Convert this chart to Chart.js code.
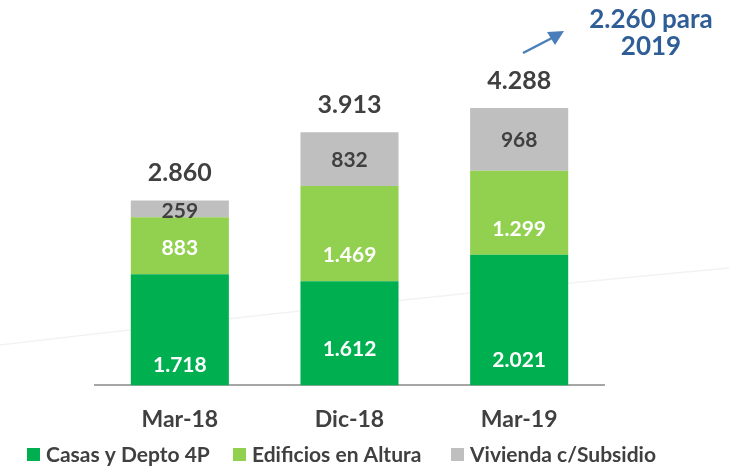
<!DOCTYPE html>
<html lang="es">
<head>
  <meta charset="UTF-8">
  <title>Unidades</title>
  <script src="https://cdn.jsdelivr.net/npm/chart.js"></script>
  <style>
    html, body { margin: 0; padding: 0; background: #fff; }
    #wrap { width: 729px; height: 467px; position: relative; }
  </style>
</head>
<body>
  <div id="wrap"><canvas id="chart"></canvas></div>
  <script>
    // datos
    const periodos = ['Mar-18', 'Dic-18', 'Mar-19'];
    const casas = [1718, 1612, 2021];
    const edificios = [883, 1469, 1299];
    const vivienda = [259, 832, 968];
    const totales = [2860, 3913, 4288];
    const nota = ['2.260 para', '2019'];

    // desplazamiento vertical de las etiquetas (como en el original, movidas a mano)
    const ajusteY = [
      [34, 15, 39],
      [2, 21, 16],
      [1, 0, 0]
    ];

    const fuente = 'Lato, "Open Sans", sans-serif';
    const gris = '#404040';

    function fmt(n) {
      return String(n).replace(/\B(?=(\d{3})+(?!\d))/g, '.');
    }

    // etiquetas dentro de las barras, totales, nota y leyenda
    const etiquetas = {
      id: 'etiquetas',
      afterDatasetsDraw(chart) {
        const ctx = chart.ctx;
        ctx.save();
        ctx.textAlign = 'center';
        ctx.textBaseline = 'middle';
        chart.data.datasets.forEach((ds, i) => {
          const meta = chart.getDatasetMeta(i);
          meta.data.forEach((bar, j) => {
            const y = (bar.y + bar.base) / 2 + ajusteY[i][j];
            ctx.font = 'bold 21px ' + fuente;
            ctx.fillStyle = i === 2 ? gris : '#ffffff';
            ctx.fillText(fmt(ds.data[j]), bar.x, y + 1);
          });
        });
        const top = chart.getDatasetMeta(2);
        top.data.forEach((bar, j) => {
          ctx.font = 'bold 25px ' + fuente;
          ctx.fillStyle = gris;
          ctx.fillText(fmt(totales[j]), bar.x, bar.y - 27);
        });

        // nota con flecha
        ctx.font = 'bold 26px ' + fuente;
        ctx.fillStyle = '#2F5D96';
        ctx.fillText(nota[0], 651, 20);
        ctx.fillText(nota[1], 651, 47);

        ctx.strokeStyle = '#4A7EBB';
        ctx.fillStyle = '#4A7EBB';
        ctx.lineWidth = 2.5;
        ctx.beginPath();
        ctx.moveTo(523, 53);
        ctx.lineTo(552, 38);
        ctx.stroke();
        ctx.beginPath();
        ctx.moveTo(564, 31);
        ctx.lineTo(547, 32);
        ctx.lineTo(555, 45);
        ctx.closePath();
        ctx.fill();

        // leyenda
        const cajas = [27, 233, 451];
        ctx.textAlign = 'left';
        ctx.font = 'bold 21px ' + fuente;
        chart.data.datasets.forEach((ds, i) => {
          ctx.fillStyle = ds.backgroundColor;
          ctx.fillRect(cajas[i], 448, 13, 13);
          ctx.fillStyle = gris;
          ctx.fillText(ds.label, cajas[i] + 19, 455);
        });
        ctx.restore();
      }
    };

    // linea decorativa de fondo
    const fondo = {
      id: 'fondo',
      beforeDraw(chart) {
        const ctx = chart.ctx;
        ctx.save();
        ctx.strokeStyle = 'rgba(0,0,0,0.05)';
        ctx.lineWidth = 1.5;
        ctx.beginPath();
        ctx.moveTo(0, 345);
        ctx.quadraticCurveTo(380, 300, 729, 268);
        ctx.stroke();
        ctx.restore();
      }
    };

    new Chart(document.getElementById('chart'), {
      type: 'bar',
      data: {
        labels: periodos,
        datasets: [
          { label: 'Casas y Depto 4P', data: casas, backgroundColor: '#00B050' },
          { label: 'Edificios en Altura', data: edificios, backgroundColor: '#92D050' },
          { label: 'Vivienda c/Subsidio', data: vivienda, backgroundColor: '#BFBFBF' }
        ]
      },
      options: {
        responsive: true,
        maintainAspectRatio: false,
        animation: false,
        layout: { padding: { left: 95, right: 125, top: 62, bottom: 22 } },
        datasets: { bar: { categoryPercentage: 0.578, barPercentage: 1 } },
        scales: {
          x: {
            stacked: true,
            grid: { display: false },
            border: { color: '#A6A6A6', width: 2 },
            ticks: {
              color: gris,
              font: { family: fuente, size: 23, weight: 'bold' },
              padding: 12
            }
          },
          y: {
            stacked: true,
            display: false,
            min: 0,
            max: 5000
          }
        },
        plugins: {
          legend: { display: false },
          tooltip: { enabled: false }
        }
      },
      plugins: [fondo, etiquetas]
    });
  </script>
</body>
</html>
